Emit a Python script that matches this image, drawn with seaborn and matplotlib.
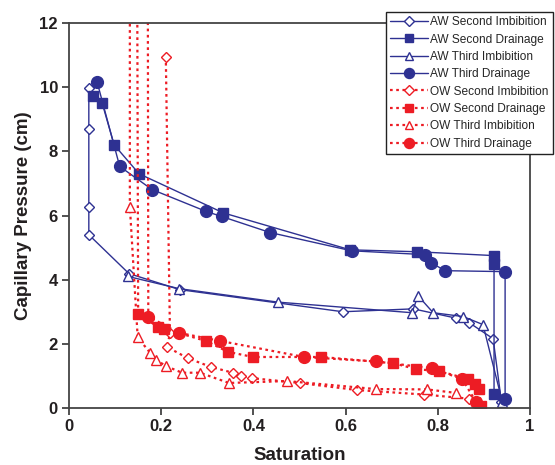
import matplotlib
matplotlib.use("Agg")
import matplotlib.pyplot as plt
import seaborn as sns
import pandas as pd

sns.set_theme(style="white")
plt.rcParams['font.family'] = ['Liberation Sans', 'DejaVu Sans']

# ---- data ----
aw2i_x = [0.043, 0.043, 0.043, 0.043, 0.130, 0.240, 0.594, 0.747, 0.840, 0.868, 0.920, 0.938]
aw2i_y = [9.97, 8.69, 6.26, 5.40, 4.19, 3.69, 3.00, 3.09, 2.80, 2.66, 2.16, 0.20]

aw2d_x = [0.922, 0.922, 0.922, 0.755, 0.610, 0.335, 0.152, 0.098, 0.072, 0.052]
aw2d_y = [0.43, 4.48, 4.75, 4.87, 4.93, 6.08, 7.30, 8.20, 9.50, 9.74]

aw3i_x = [0.128, 0.239, 0.453, 0.744, 0.757, 0.790, 0.855, 0.898, 0.940]
aw3i_y = [4.10, 3.72, 3.30, 2.97, 3.50, 2.97, 2.85, 2.60, 0.19]

aw3d_x = [0.946, 0.946, 0.816, 0.785, 0.772, 0.613, 0.436, 0.331, 0.297, 0.180, 0.110, 0.061]
aw3d_y = [0.28, 4.25, 4.28, 4.53, 4.78, 4.90, 5.47, 5.97, 6.13, 6.81, 7.53, 10.16]

ow2i_x = [0.210, 0.219, 0.213, 0.258, 0.308, 0.355, 0.373, 0.397, 0.500, 0.625, 0.770, 0.868]
ow2i_y = [10.95, 2.34, 1.90, 1.55, 1.28, 1.10, 1.00, 0.93, 0.78, 0.56, 0.42, 0.29]

ow2d_x = [0.894, 0.889, 0.881, 0.866, 0.803, 0.753, 0.703, 0.547, 0.399, 0.345, 0.297, 0.206, 0.193, 0.150, 0.148]
ow2d_y = [0.06, 0.59, 0.75, 0.90, 1.15, 1.21, 1.40, 1.59, 1.59, 1.75, 2.09, 2.47, 2.53, 2.93, 13.0]

ow3i_x = [0.132, 0.132, 0.149, 0.176, 0.189, 0.210, 0.245, 0.284, 0.347, 0.473, 0.666, 0.776, 0.840]
ow3i_y = [13.0, 6.28, 2.20, 1.72, 1.50, 1.31, 1.10, 1.10, 0.78, 0.84, 0.59, 0.58, 0.47]

ow3d_x = [0.883, 0.853, 0.787, 0.666, 0.510, 0.328, 0.239, 0.172, 0.171]
ow3d_y = [0.19, 0.90, 1.24, 1.45, 1.59, 2.09, 2.34, 2.85, 13.0]

labels = ["AW Second Imbibition", "AW Second Drainage", "AW Third Imbibition", "AW Third Drainage",
          "OW Second Imbibition", "OW Second Drainage", "OW Third Imbibition", "OW Third Drainage"]
xs = [aw2i_x, aw2d_x, aw3i_x, aw3d_x, ow2i_x, ow2d_x, ow3i_x, ow3d_x]
ys = [aw2i_y, aw2d_y, aw3i_y, aw3d_y, ow2i_y, ow2d_y, ow3i_y, ow3d_y]

BLUE = "#2E3192"
RED = "#ED1C24"
markers = ["D", "s", "^", "o", "D", "s", "^", "o"]
msizes = [5.5, 7.5, 7.5, 8.5, 5.5, 7.5, 7.5, 8.5]
filled = [False, True, False, True, False, True, False, True]

fig = plt.figure(figsize=(5.55, 4.65), dpi=100)
ax = fig.add_axes([69/555, 1-408/465, (530-69)/555, (408-23)/465])

for i, lab in enumerate(labels):
    df = pd.DataFrame({"x": xs[i], "y": ys[i]})
    col = BLUE if i < 4 else RED
    ls = "-" if i < 4 else (0, (1.2, 1.6))
    lw = 1.0 if i < 4 else 1.6
    sns.lineplot(data=df, x="x", y="y", ax=ax, sort=False, estimator=None,
                 color=col, linestyle=ls, linewidth=lw, marker=markers[i],
                 markersize=msizes[i], markeredgewidth=1.0,
                 markerfacecolor=(col if filled[i] else "white"),
                 markeredgecolor=col, label=lab)

ax.set_xlim(0, 1)
ax.set_ylim(0, 12)
ax.set_xticks([0, 0.2, 0.4, 0.6, 0.8, 1.0])
ax.set_xticklabels(["0", "0.2", "0.4", "0.6", "0.8", "1"])
ax.set_yticks([0, 2, 4, 6, 8, 10, 12])
ax.tick_params(axis="both", direction="out", length=5, width=1.2, color="#333333",
               labelsize=12, pad=3, left=True, bottom=True)
for t in ax.get_xticklabels() + ax.get_yticklabels():
    t.set_fontweight("bold")
    t.set_color("#231F20")
for s in ax.spines.values():
    s.set_color("#444444")
    s.set_linewidth(1.3)
ax.set_xlabel("Saturation", fontsize=13.5, fontweight="bold", color="#231F20", labelpad=9)
ax.set_ylabel("Capillary Pressure (cm)", fontsize=13.5, fontweight="bold", color="#231F20", labelpad=5)

leg = ax.legend(loc="upper right", bbox_to_anchor=(553/555, 1-12/465),
                bbox_transform=fig.transFigure, borderaxespad=0, fontsize=8.6,
                frameon=True, fancybox=False, edgecolor="#222222", framealpha=1,
                handlelength=3.2, handletextpad=0.2, labelspacing=0.45,
                borderpad=0.35, markerscale=0.85)
leg.get_frame().set_linewidth(1.0)
leg.set_zorder(10)

fig.savefig("out.png", dpi=100)
